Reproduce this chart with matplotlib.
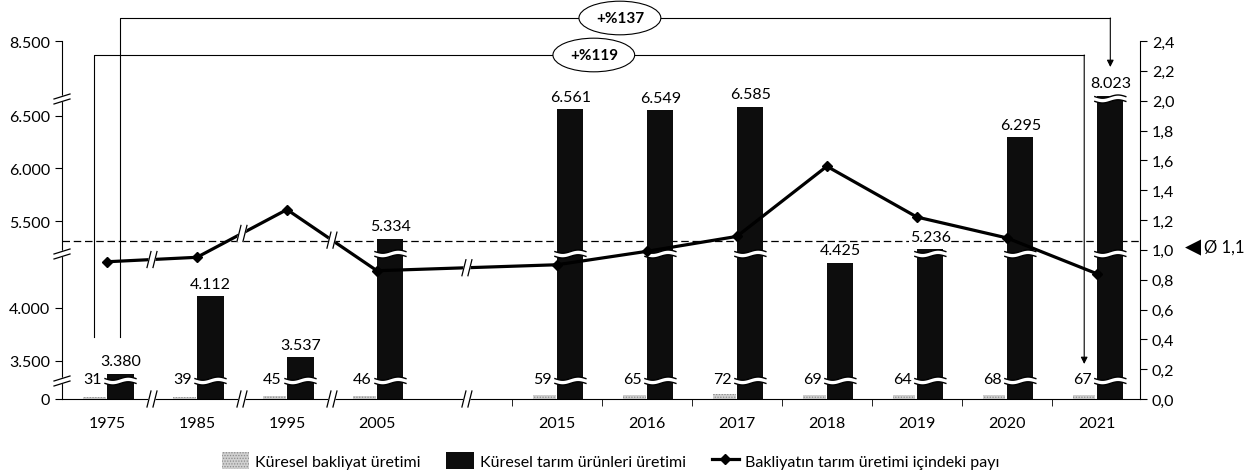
import matplotlib.pyplot as plt
import numpy as np
from matplotlib import transforms
from matplotlib.patches import Patch
from matplotlib.lines import Line2D

plt.rcParams['font.family'] = ['Lato', 'DejaVu Sans']
plt.rcParams['font.size'] = 11
plt.rcParams['hatch.linewidth'] = 0.6

years = ['1975', '1985', '1995', '2005', '2015', '2016', '2017', '2018', '2019', '2020', '2021']
pulses = [31, 39, 45, 46, 59, 65, 72, 69, 64, 68, 67]                          # Küresel bakliyat üretimi
crops = [3380, 4112, 3537, 5334, 6561, 6549, 6585, 4425, 5236, 6295, 8023]     # Küresel tarım ürünleri üretimi
share = [0.92, 0.95, 1.27, 0.86, 0.90, 0.99, 1.09, 1.56, 1.22, 1.08, 0.84]     # Bakliyatın payı (%)
share_avg = 1.06
left_ticks = [0, 3500, 4000, 5500, 6000, 6500, 8500]
right_ticks = [0.0, 0.2, 0.4, 0.6, 0.8, 1.0, 1.2, 1.4, 1.6, 1.8, 2.0, 2.2, 2.4]

# slot positions, with one empty slot between 2005 and 2015
idx = np.arange(len(years))
xpos = idx + (idx > 3)

# broken left axis: value -> pixel height above the baseline
knot_val = [0, 250, 3330, 4000, 4500, 5200, 6600, 8100, 8500]
knot_pix = [0, 16, 20, 91, 144, 146, 294, 304, 358]
top_pix = 358
breaks_pix = [18, 145, 300]


def fwd(v):
    return np.interp(v, knot_val, knot_pix)


def inv(d):
    return np.interp(d, knot_pix, knot_val)


fig = plt.figure(figsize=(12.59, 4.77), dpi=100)
ax = fig.add_axes([62 / 1259, 77 / 477, 1078 / 1259, top_pix / 477])
ax.set_yscale('function', functions=(fwd, inv))
ax.set_ylim(0, 8500)
ax.set_xlim(-0.5, 11.48)
ax2 = ax.twinx()
ax2.set_ylim(0, 2.4)

blend = transforms.blended_transform_factory(ax.transData, ax.transAxes)


def px(x, y, trans):
    # offsets in pixels around a point given in `trans` coordinates
    return (transforms.Affine2D().scale(1 / fig.dpi) + fig.dpi_scale_trans
            + transforms.ScaledTranslation(x, y, trans))


# bars
ax.bar(xpos - 0.14, pulses, 0.25, color='#d0d0d0', edgecolor='#8c8c8c', hatch='......', linewidth=0, zorder=2)
ax.bar(xpos + 0.15, crops, 0.29, color='#0d0d0d', zorder=2)

# wavy cuts on the black bars
wx = np.linspace(-15.5, 15.5, 80)
wy = 1.6 * np.sin(wx / 31 * 2 * np.pi)
for x, v in zip(xpos + 0.15, crops):
    for b in breaks_pix:
        if fwd(v) > b + 2:
            t = px(x, b / top_pix, blend)
            ax.plot(wx, wy, color='white', lw=3.4, transform=t, zorder=3, solid_capstyle='butt')
            ax.plot(wx, wy + 2.4, color='black', lw=1.0, transform=t, zorder=3)
            ax.plot(wx, wy - 2.4, color='black', lw=1.0, transform=t, zorder=3)

# value labels
for x, v in zip(xpos + 0.15, crops):
    ax.annotate(f'{v:,}'.replace(',', '.'), (x, v), xytext=(0, 4), textcoords='offset points',
                ha='center', va='bottom', fontsize=11.5, zorder=4,
                bbox=dict(fc='white', ec='none', pad=0.3))
for x, v in zip(xpos - 0.16, pulses):
    ax.text(x, 20 / top_pix, str(v), transform=blend, ha='center', va='center', fontsize=11.5, zorder=4)

# average line (right axis units) drawn under bars
avg_trans = transforms.blended_transform_factory(ax.transAxes, ax2.transData)
ax.plot([0, 1], [share_avg, share_avg], transform=avg_trans, color='black', lw=0.9,
        ls=(0, (6, 3)), zorder=1)
ax2.annotate('◀', xy=(1, share_avg), xycoords=('axes fraction', 'data'), xytext=(32, -4),
             textcoords='offset points', ha='left', va='center', fontsize=15,
             family='DejaVu Sans', annotation_clip=False)
ax2.annotate('Ø 1,1', xy=(1, share_avg), xycoords=('axes fraction', 'data'), xytext=(46, -4),
             textcoords='offset points', ha='left', va='center', fontsize=12,
             annotation_clip=False)

# share line
ax2.plot(xpos, share, color='black', lw=2.3, marker='D', ms=5, zorder=5)

# axes styling
for s in ['top', 'right']:
    ax.spines[s].set_visible(False)
for s in ['top', 'left', 'bottom']:
    ax2.spines[s].set_visible(False)
ax.set_yticks(left_ticks, [f'{t:,}'.replace(',', '.') for t in left_ticks])
ax.set_yticks([], minor=True)
ax.tick_params(axis='y', direction='out', length=5, labelsize=11.5)
ax2.set_yticks(right_ticks, [f'{t:.1f}'.replace('.', ',') for t in right_ticks])
ax2.tick_params(axis='y', direction='out', length=5, labelsize=11.5)
ax.set_xticks(xpos, years)
ax.set_xticks(xpos[4:] - 0.5, minor=True)
ax.tick_params(axis='x', which='major', length=0, pad=12, labelsize=11.5)
ax.tick_params(axis='x', which='minor', length=5, direction='out')


def slashes(x, y, trans):
    # "//" mark across a horizontal line
    t = px(x, y, trans)
    ax2.fill([-5, -1, 5, 1], [-8, 8, 8, -8], color='white', transform=t, zorder=6, clip_on=False)
    ax2.plot([-5, -1], [-8, 8], color='black', lw=0.9, transform=t, zorder=7, clip_on=False)
    ax2.plot([1, 5], [-8, 8], color='black', lw=0.9, transform=t, zorder=7, clip_on=False)


def axis_break(y):
    # "=" mark across the left axis
    t = px(-0.5, y, blend)
    ax2.fill([-8, 8, 8, -8], [-5, 0, 5, 0], color='white', transform=t, zorder=6, clip_on=False)
    ax2.plot([-8, 8], [-5, 0], color='black', lw=0.9, transform=t, zorder=7, clip_on=False)
    ax2.plot([-8, 8], [0, 5], color='black', lw=0.9, transform=t, zorder=7, clip_on=False)


x_breaks = (xpos[:4] + xpos[1:5]) / 2
for x, y in zip(x_breaks, np.interp(x_breaks, xpos, share)):
    slashes(x, y, ax2.transData)
    slashes(x, 0, blend)
for b in breaks_pix:
    axis_break(b / top_pix)

# growth brackets
brackets = [('+%137', xpos[0] + 0.15, xpos[-1] + 0.15, 381, 332, 5.7),
            ('+%119', xpos[0] - 0.14, xpos[-1] - 0.14, 344, 35, 5.41)]
for label, x0, x1, ytop, yend, xl in brackets:
    yt = ytop / top_pix
    ax2.plot([x0, x0, x1], [62 / top_pix, yt, yt], color='black', lw=0.8,
             transform=blend, clip_on=False, zorder=6)
    ax2.annotate('', xy=(x1, yend / top_pix), xytext=(x1, yt), xycoords=blend, textcoords=blend,
                 arrowprops=dict(arrowstyle='-|>', lw=0.8, color='black', mutation_scale=10,
                                 shrinkA=0, shrinkB=0), annotation_clip=False, zorder=6)
    ax2.text(xl, yt, label, transform=blend, ha='center', va='center', fontsize=11,
             fontweight='bold', zorder=8,
             bbox=dict(boxstyle='ellipse,pad=0.32', fc='white', ec='black', lw=0.8))

# legend
handles = [Patch(facecolor='#d0d0d0', edgecolor='#8c8c8c', hatch='......', linewidth=0),
           Patch(facecolor='#0d0d0d'),
           Line2D([], [], color='black', lw=2.3, marker='D', ms=5)]
labels = ['Küresel bakliyat üretimi', 'Küresel tarım ürünleri üretimi',
          'Bakliyatın tarım üretimi içindeki payı']
fig.legend(handles, labels, loc='center', bbox_to_anchor=(0.485, 0.033), ncol=3, frameon=False,
           fontsize=11.5, handlelength=1.7, handleheight=1.3, handletextpad=0.4, columnspacing=1.6)

fig.savefig('out.png', dpi=100)
